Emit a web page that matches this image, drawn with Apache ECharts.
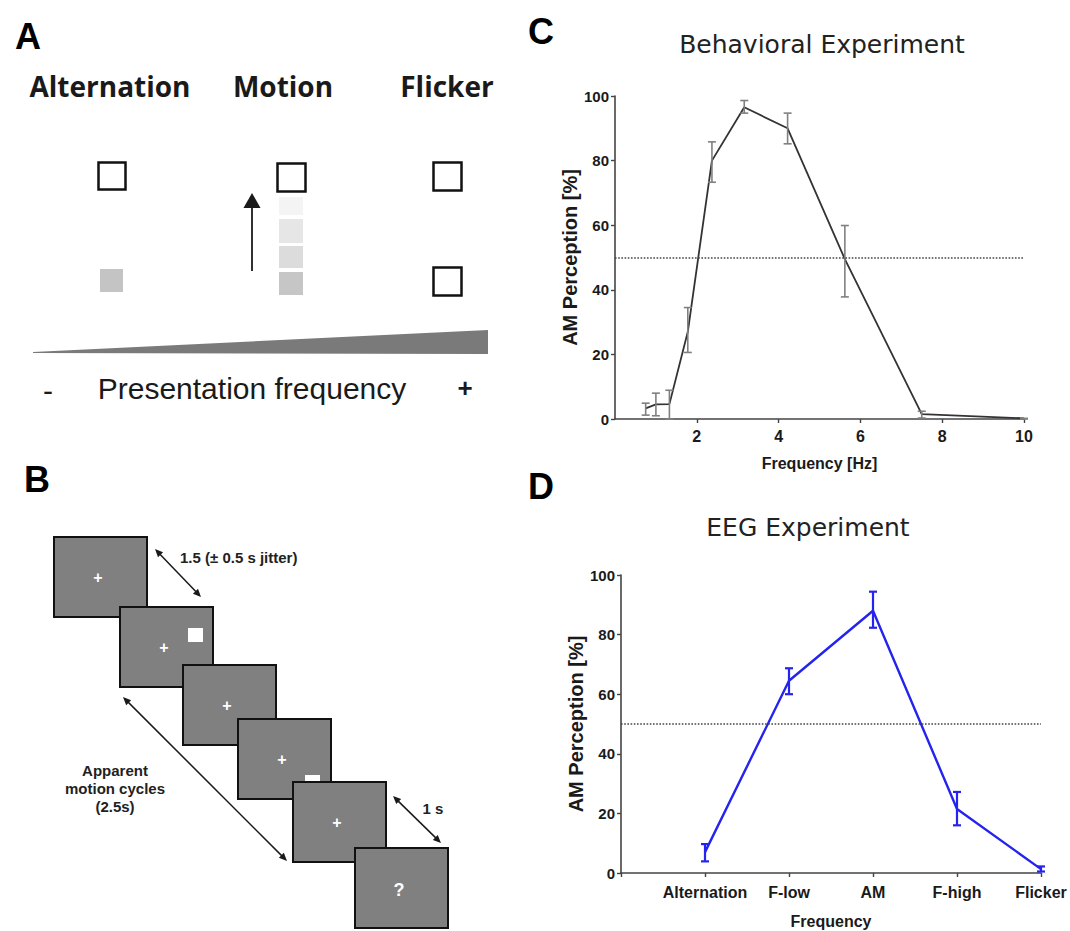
<!DOCTYPE html>
<html>
<head>
<meta charset="utf-8">
<script src="https://cdn.jsdelivr.net/npm/echarts@6/dist/echarts.min.js"></script>
<style>html,body{margin:0;padding:0;background:#fff}#main{width:1070px;height:931px}</style>
</head>
<body>
<div id="main"></div>
<script>
// ---- Panel C data (behavioral experiment) ----
const cFreq = [0.75, 1.0, 1.33, 1.78, 2.37, 3.16, 4.22, 5.62, 7.5, 10];
const cMean = [3.3, 4.5, 4.6, 27, 80, 96.5, 90, 49.5, 1.5, 0.2];
const cLow  = [1.2, 1.0, 0, 20.6, 73.3, 94.7, 85.2, 37.8, 0.3, 0];
const cHigh = [4.9, 8.0, 8.9, 34.5, 85.8, 98.6, 94.7, 59.9, 2.4, 0.2];
const cXTicks = [0, 2, 4, 6, 8, 10];
// ---- Panel D data (EEG experiment) ----
const dCats = ['Alternation', 'F-low', 'AM', 'F-high', 'Flicker'];
const dMean = [7, 64.5, 88, 21.5, 1.3];
const dLow  = [3.9, 60, 82.3, 16, 0.5];
const dHigh = [9.7, 68.7, 94.4, 27.2, 2.2];
const yTicks = [0, 20, 40, 60, 80, 100];
const threshold = 50;

const sans = "'Liberation Sans',Arial,sans-serif";

function errRender(color, capW, lw) {
  return function (params, api) {
    const x = api.value(0);
    const lo = api.coord([x, api.value(1)]);
    const hi = api.coord([x, api.value(2)]);
    const st = { stroke: color, lineWidth: lw };
    return { type: 'group', children: [
      { type: 'line', shape: { x1: lo[0], y1: lo[1], x2: hi[0], y2: hi[1] }, style: st },
      { type: 'line', shape: { x1: lo[0] - capW, y1: lo[1], x2: lo[0] + capW, y2: lo[1] }, style: st },
      { type: 'line', shape: { x1: hi[0] - capW, y1: hi[1], x2: hi[0] + capW, y2: hi[1] }, style: st }
    ]};
  };
}

// ---- drawing helpers for the schematic panels ----
function txt(t, x, y, font, fill, align, z) {
  return { type: 'text', z: z || 20, style: { text: t, x: x, y: y, font: font, fill: fill || '#1a1a1a',
    textAlign: align || 'center', align: align || 'center', textVerticalAlign: 'middle', verticalAlign: 'middle' } };
}
function rect(x, y, w, h, fill, stroke, lw, z) {
  return { type: 'rect', z: z || 10, shape: { x: x, y: y, width: w, height: h },
    style: { fill: fill, stroke: stroke || null, lineWidth: lw || 0 } };
}
function head(tx, ty, ux, uy, len, w, z) {
  const px = -uy, py = ux;
  return { type: 'polygon', z: z || 30, shape: { points: [[tx, ty],
    [tx + ux * len + px * w, ty + uy * len + py * w], [tx + ux * len - px * w, ty + uy * len - py * w]] },
    style: { fill: '#1a1a1a' } };
}
function dblArrow(x1, y1, x2, y2) {
  const dx = x2 - x1, dy = y2 - y1, L = Math.hypot(dx, dy), ux = dx / L, uy = dy / L;
  return [
    { type: 'line', z: 30, shape: { x1: x1 + ux * 3, y1: y1 + uy * 3, x2: x2 - ux * 3, y2: y2 - uy * 3 },
      style: { stroke: '#1a1a1a', lineWidth: 1.5 } },
    head(x1, y1, ux, uy, 8, 3.5), head(x2, y2, -ux, -uy, 8, 3.5)
  ];
}

const g = [];
// panel letters
g.push(txt('A', 28, 36, 'bold 36px ' + sans, '#000'));
g.push(txt('B', 37, 479, 'bold 36px ' + sans, '#000'));
g.push(txt('C', 541, 31, 'bold 36px ' + sans, '#000'));
g.push(txt('D', 541, 486, 'bold 36px ' + sans, '#000'));
// panel titles for C and D
g.push(txt('Behavioral Experiment', 822, 44, '25px "DejaVu Sans",Verdana,sans-serif', '#222'));
g.push(txt('EEG Experiment', 808, 527, '25px "DejaVu Sans",Verdana,sans-serif', '#222'));

// ---- Panel A ----
const hA = 'bold 28px "Open Sans",sans-serif';
g.push(txt('Alternation', 110, 86, hA, '#1a1a1a'));
g.push(txt('Motion', 283, 86, hA, '#1a1a1a'));
g.push(txt('Flicker', 447, 86, hA, '#1a1a1a'));
g.push(rect(98.5, 162.5, 27, 27, '#fff', '#111', 2.5));
g.push(rect(277.5, 163.5, 28, 28, '#fff', '#111', 2.5));
g.push(rect(433.5, 162.5, 28, 28, '#fff', '#111', 2.5));
g.push(rect(433.5, 267.5, 28, 28, '#fff', '#111', 2.5));
g.push(rect(100, 269, 23, 23, '#c4c4c4'));
g.push(rect(279, 197, 24, 18, '#f4f4f4'));
g.push(rect(279, 219, 24, 24, '#e6e6e6'));
g.push(rect(279, 246, 24, 22, '#dcdcdc'));
g.push(rect(279, 272, 24, 23, '#c6c6c6'));
g.push({ type: 'line', z: 30, shape: { x1: 252, y1: 271, x2: 252, y2: 204 }, style: { stroke: '#1a1a1a', lineWidth: 1.8 } });
g.push(head(252, 193, 0, 1, 15, 8.5));
g.push({ type: 'polygon', z: 10, shape: { points: [[33, 352], [488, 330], [488, 354], [33, 353]] }, style: { fill: '#7a7a7a' } });
g.push(txt('-', 48, 390, '30px ' + sans, '#1a1a1a'));
g.push(txt('Presentation frequency', 252, 388, '30px ' + sans, '#1a1a1a'));
g.push(txt('+', 465, 388, 'bold 26px ' + sans, '#1a1a1a'));

// ---- Panel B ----
const screens = [[54, 537], [120, 607], [183, 665], [238, 719], [293, 782], [355, 848]];
const plus = 'bold 16px ' + sans;
screens.forEach(function (s, i) {
  const z = 10 + i * 2;
  g.push(rect(s[0], s[1], 93, 80, '#808080', '#111', 2, z));
  const cx = s[0] + 44, cy = s[1] + 40;
  if (i === 5) {
    g.push(txt('?', cx, cy + 2, 'bold 18px ' + sans, '#fff', 'center', z + 1));
  } else {
    g.push(txt('+', cx, cy, plus, '#fff', 'center', z + 1));
  }
  if (i === 1) g.push(rect(188, 628, 15, 14, '#fff', null, 0, z + 1));
  if (i === 3) g.push(rect(305, 775, 15, 14, '#fff', null, 0, z + 1));
});
dblArrow(155, 549, 201, 597).forEach(e => g.push(e));
dblArrow(123, 697, 287, 861).forEach(e => g.push(e));
dblArrow(393, 796, 441, 843).forEach(e => g.push(e));
const bF = 'bold 15px ' + sans;
g.push(txt('1.5 (\u00b1 0.5 s jitter)', 180, 557, bF, '#222', 'left'));
g.push(txt('Apparent', 115, 770, bF, '#222'));
g.push(txt('motion cycles', 115, 788, bF, '#222'));
g.push(txt('(2.5s)', 115, 806, bF, '#222'));
g.push(txt('1 s', 433, 808, bF, '#222'));

const axisLine = { show: true, lineStyle: { color: '#444', width: 1.6 } };
const axisTick = { show: true, length: 4, lineStyle: { color: '#444', width: 1.4 } };
const markLine50 = { silent: true, symbol: 'none', label: { show: false },
  lineStyle: { type: 'dotted', color: '#444', width: 1.6 }, data: [{ yAxis: threshold }] };
const lbl = (size, margin) => ({ fontFamily: sans, fontWeight: 'bold', fontSize: size, color: '#1a1a1a', margin: margin });
const nm = { fontFamily: sans, fontWeight: 'bold', fontSize: 16, color: '#1a1a1a' };
const ynm = { fontFamily: sans, fontWeight: 'bold', fontSize: 20, color: '#1a1a1a' };

const option = {
  animation: false,
  backgroundColor: '#fff',
  graphic: { elements: g },
  grid: [
    { left: 615, top: 96, width: 409, height: 323 },
    { left: 621, top: 575, width: 420, height: 298 }
  ],
  xAxis: [
    { type: 'value', gridIndex: 0, min: cXTicks[0], max: cXTicks[cXTicks.length - 1], interval: 2,
      axisLine: axisLine, axisTick: axisTick, splitLine: { show: false },
      axisLabel: Object.assign(lbl(16, 9), { showMinLabel: false }),
      name: 'Frequency [Hz]', nameLocation: 'middle', nameGap: 36, nameTextStyle: nm },
    { type: 'category', gridIndex: 1, data: [''].concat(dCats), boundaryGap: false,
      axisLine: axisLine, axisTick: axisTick, splitLine: { show: false },
      axisLabel: Object.assign(lbl(16, 11), { interval: 0 }),
      name: 'Frequency', nameLocation: 'middle', nameGap: 40, nameTextStyle: nm }
  ],
  yAxis: [
    { type: 'value', gridIndex: 0, min: yTicks[0], max: yTicks[yTicks.length - 1], interval: 20,
      axisLine: axisLine, axisTick: axisTick, splitLine: { show: false },
      axisLabel: lbl(15, 6),
      name: 'AM Perception [%]', nameLocation: 'middle', nameGap: 30, nameRotate: 90, nameTextStyle: ynm },
    { type: 'value', gridIndex: 1, min: yTicks[0], max: yTicks[yTicks.length - 1], interval: 20,
      axisLine: axisLine, axisTick: axisTick, splitLine: { show: false },
      axisLabel: lbl(15, 6),
      name: 'AM Perception [%]', nameLocation: 'middle', nameGap: 34, nameRotate: 90, nameTextStyle: ynm }
  ],
  series: [
    { type: 'line', xAxisIndex: 0, yAxisIndex: 0, showSymbol: false, z: 3,
      data: cFreq.map((f, i) => [f, cMean[i]]),
      lineStyle: { color: '#333', width: 1.8 }, markLine: markLine50 },
    { type: 'custom', xAxisIndex: 0, yAxisIndex: 0, z: 4,
      data: cFreq.map((f, i) => [f, cLow[i], cHigh[i]]),
      renderItem: errRender('#808080', 4, 1.6) },
    { type: 'line', xAxisIndex: 1, yAxisIndex: 1, showSymbol: false, z: 3,
      data: ['-'].concat(dMean),
      lineStyle: { color: '#2424ee', width: 2.4 }, markLine: markLine50 },
    { type: 'custom', xAxisIndex: 1, yAxisIndex: 1, z: 4,
      data: dCats.map((c, i) => [i + 1, dLow[i], dHigh[i]]),
      renderItem: errRender('#2424ee', 4, 2.2) }
  ]
};
const chart = echarts.init(document.getElementById('main'), null, { renderer: 'svg' });
chart.setOption(option);
</script>
</body>
</html>
